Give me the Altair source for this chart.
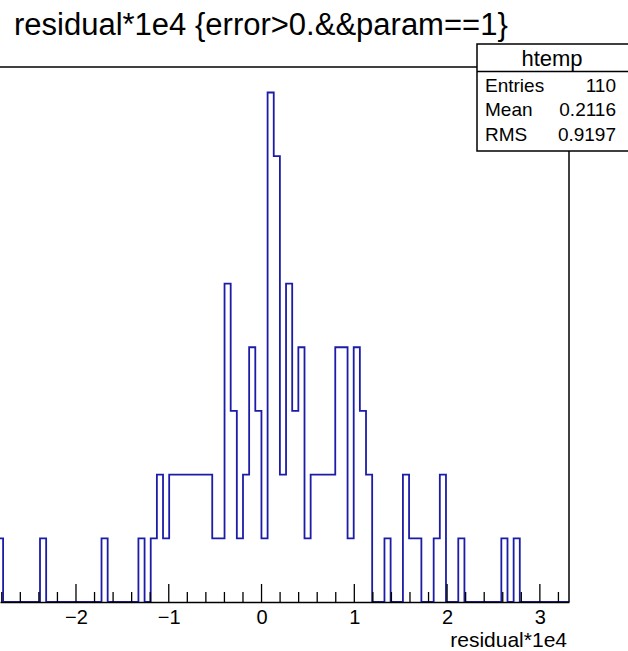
import altair as alt
import pandas as pd

# ---- data ----
TITLE = "residual*1e4 {error>0.&&param==1}"
X_TITLE = "residual*1e4"
STAT_NAME = "htemp"
STAT_LABELS = ["Entries", "Mean", "RMS"]
STAT_VALUES = ["110", "0.2116", "0.9197"]

# histogram: 100 bins, low edge and bin width
X_LOW = -3.316
BIN_W = 0.0663
COUNTS = [0, 0, 0, 0, 0, 0, 0, 1, 0, 0,
          0, 0, 0, 0, 1, 0, 0, 0, 0, 0,
          0, 0, 0, 0, 1, 0, 0, 0, 0, 0,
          1, 0, 1, 2, 1, 2, 2, 2, 2, 2,
          2, 2, 1, 1, 5, 3, 1, 2, 4, 3,
          1, 8, 7, 2, 5, 3, 4, 1, 2, 2,
          2, 2, 4, 4, 1, 4, 3, 2, 0, 0,
          1, 0, 0, 2, 1, 1, 0, 0, 1, 2,
          0, 0, 1, 0, 0, 0, 0, 0, 0, 1,
          0, 1, 0, 0, 0, 0, 0, 0, 0, 0]

MAJOR_TICKS = [-2, -1, 0, 1, 2, 3]
MINOR_TICKS = [-2.8, -2.6, -2.4, -2.2, -1.8, -1.6, -1.4, -1.2,
               -0.8, -0.6, -0.4, -0.2, 0.2, 0.4, 0.6, 0.8,
               1.2, 1.4, 1.6, 1.8, 2.2, 2.4, 2.6, 2.8, 3.2]

X_VIEW = [-2.819, 3.314]
Y_VIEW = [0, 8.4]

# ---- build tables ----
rows = []
i = 0
for k, c in enumerate(COUNTS):
    lo = X_LOW + BIN_W * k
    hi = lo + BIN_W
    rows.append({"i": i, "x": lo, "y": c}); i += 1
    rows.append({"i": i, "x": hi, "y": c}); i += 1
hist = pd.DataFrame(rows)

W, H = 569, 535
FONT = "Liberation Sans"
BLUE = "#1c1ca8"

xs = alt.Scale(domain=X_VIEW, nice=False, zero=False)
ys = alt.Scale(domain=Y_VIEW, nice=False, zero=False)

line = alt.Chart(hist).mark_line(color=BLUE, strokeWidth=1.8, clip=True, interpolate="linear").encode(
    x=alt.X("x:Q", scale=xs,
            axis=alt.Axis(values=MAJOR_TICKS, format="d", title=None, ticks=False, tickSize=0,
                          labelPadding=5, labelFont=FONT, labelFontSize=20, labelColor="black",
                          domainColor="black", domainWidth=1.5, grid=False, zindex=1)),
    y=alt.Y("y:Q", scale=ys, axis=None),
    order="i:Q",
)

major = alt.Chart(pd.DataFrame({"t": MAJOR_TICKS})).mark_rule(color="black", strokeWidth=1.3).encode(
    x=alt.X("t:Q", scale=xs), y=alt.value(H), y2=alt.value(H - 18))
minor = alt.Chart(pd.DataFrame({"t": MINOR_TICKS})).mark_rule(color="black", strokeWidth=1.3).encode(
    x=alt.X("t:Q", scale=xs), y=alt.value(H), y2=alt.value(H - 10))

one = pd.DataFrame({"a": [0]})
frame_top = alt.Chart(one).mark_rule(color="black", strokeWidth=1.5).encode(
    x=alt.value(0), x2=alt.value(W), y=alt.value(0))
frame_right = alt.Chart(one).mark_rule(color="black", strokeWidth=1.5).encode(
    x=alt.value(W), y=alt.value(0), y2=alt.value(H))

title = alt.Chart(one).mark_text(text=TITLE, font=FONT, fontSize=31, align="left",
                                 baseline="alphabetic", color="black").encode(
    x=alt.value(14), y=alt.value(-32))
xtitle = alt.Chart(one).mark_text(text=X_TITLE, font=FONT, fontSize=21, align="right",
                                  baseline="alphabetic", color="black").encode(
    x=alt.value(567), y=alt.value(580))

box = alt.Chart(one).mark_rect(fill="white", stroke="black", strokeWidth=1.5).encode(
    x=alt.value(477), x2=alt.value(680), y=alt.value(-23), y2=alt.value(84))
box_div = alt.Chart(one).mark_rule(color="black", strokeWidth=1.5).encode(
    x=alt.value(477), x2=alt.value(680), y=alt.value(4.5))
box_name = alt.Chart(one).mark_text(text=STAT_NAME, font=FONT, fontSize=22, align="center",
                                    baseline="middle", color="black").encode(
    x=alt.value(552), y=alt.value(-8))

stat_layers = []
for n, (lab, val) in enumerate(zip(STAT_LABELS, STAT_VALUES)):
    yy = 24.5 + 24.8 * n
    stat_layers.append(alt.Chart(one).mark_text(text=lab, font=FONT, fontSize=19, align="left",
                                                baseline="alphabetic", color="black").encode(
        x=alt.value(485), y=alt.value(yy)))
    stat_layers.append(alt.Chart(one).mark_text(text=val, font=FONT, fontSize=19, align="right",
                                                baseline="alphabetic", color="black").encode(
        x=alt.value(616), y=alt.value(yy)))

chart = alt.layer(
    line, minor, major, frame_top, frame_right, title, xtitle, box, box_div, box_name, *stat_layers
).properties(
    width=W, height=H,
    autosize=alt.AutoSizeParams(type="none"),
    padding={"left": 0, "top": 67, "right": 59, "bottom": 49},
    background="white",
).configure_view(stroke=None)

chart.save("out.html", embed_options={"renderer": "svg", "actions": False})
